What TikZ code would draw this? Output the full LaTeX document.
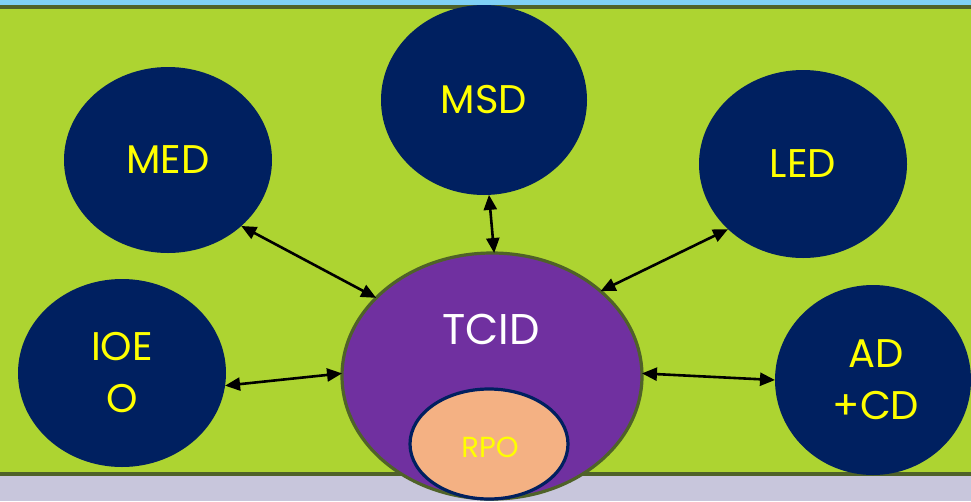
\documentclass[tikz,border=0pt]{standalone}
\usepackage{fontspec}
\setmainfont{Poppins}
\usetikzlibrary{arrows.meta,shapes.geometric}
\definecolor{bggreen}{RGB}{173,212,49}
\definecolor{olive}{RGB}{79,98,40}
\definecolor{topblue}{RGB}{127,208,245}
\definecolor{lavender}{RGB}{200,198,220}
\definecolor{navy}{RGB}{0,32,96}
\definecolor{tpurple}{RGB}{112,48,160}
\definecolor{rpoorange}{RGB}{244,177,131}
\definecolor{txtyellow}{RGB}{255,255,0}
\tikzset{
  blob/.style={ellipse, fill=navy, draw=none, inner sep=0pt, outer sep=0pt,
    text=txtyellow, align=center, font=\fontsize{40}{52}\selectfont},
  link/.style={{Triangle[length=15pt,width=13pt]}-{Triangle[length=15pt,width=13pt]}, line width=2.6pt, black}
}
\begin{document}
\begin{tikzpicture}[x=1pt,y=-1pt]
\useasboundingbox (0,0) rectangle (971,501);
% background bands
\fill[topblue] (0,0) rectangle (971,5);
\fill[olive] (0,5) rectangle (971,9);
\fill[bggreen] (0,9) rectangle (971,472);
\fill[olive] (0,472) rectangle (971,476);
\fill[lavender] (0,476) rectangle (971,501);
% outer nodes
\node[blob, minimum width=206pt, minimum height=190pt] (msd) at (484,100) {MSD};
\node[blob, minimum width=208pt, minimum height=186pt] (med) at (168,160) {MED};
\node[blob, minimum width=208pt, minimum height=188pt] (led) at (803,164) {LED};
\node[blob, minimum width=208pt, minimum height=188pt] (ioeo) at (122,373) {IOE\\O};
\node[blob, minimum width=196pt, minimum height=190pt] (adcd) at (873,380) {\hspace*{6pt}AD\\\hspace*{6pt}+CD};
% centre
\node[ellipse, fill=tpurple, draw=olive, line width=3.2pt, inner sep=0pt, outer sep=0pt,
      minimum width=300pt, minimum height=246pt] (tcid) at (492,376) {};
\node[text=white, font=\fontsize{43}{50}\selectfont] (tcidtext) at (491,329) {TCID};
\node[ellipse, fill=rpoorange, draw=navy, line width=3.2pt, inner sep=0pt, outer sep=0pt,
      minimum width=158pt, minimum height=110pt] (rpo) at (489,444) {};
\node[text=txtyellow, font=\fontsize{29}{34}\selectfont] (rpotext) at (490,447) {RPO};
% connectors
\draw[link] (med.-42.6) -- (tcid.146);
\draw[link] (msd.-87) -- (tcid.89);
\draw[link] (led.-139) -- (tcid.38.5);
\draw[link] (ioeo.-7) -- (tcid.179.5);
\draw[link] (tcid.1) -- (adcd.180);
\end{tikzpicture}
\end{document}
